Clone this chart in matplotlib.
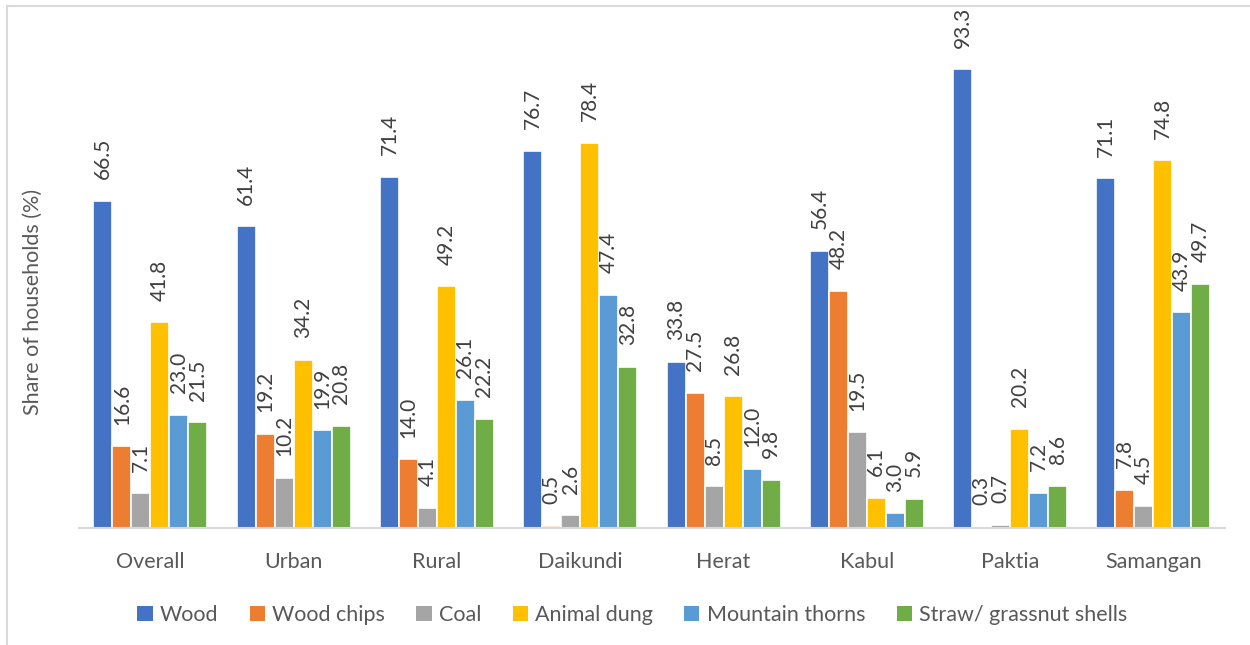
import matplotlib
matplotlib.use("Agg")
import matplotlib.pyplot as plt
import numpy as np
from matplotlib.patches import Patch
from matplotlib.lines import Line2D

categories = ["Overall", "Urban", "Rural", "Daikundi", "Herat", "Kabul", "Paktia", "Samangan"]
series_names = ["Wood", "Wood chips", "Coal", "Animal dung", "Mountain thorns", "Straw/ grassnut shells"]
wood = [66.5, 61.4, 71.4, 76.7, 33.8, 56.4, 93.3, 71.1]
wood_chips = [16.6, 19.2, 14.0, 0.5, 27.5, 48.2, 0.3, 7.8]
coal = [7.1, 10.2, 4.1, 2.6, 8.5, 19.5, 0.7, 4.5]
animal_dung = [41.8, 34.2, 49.2, 78.4, 26.8, 6.1, 20.2, 74.8]
mountain_thorns = [23.0, 19.9, 26.1, 47.4, 12.0, 3.0, 7.2, 43.9]
straw = [21.5, 20.8, 22.2, 32.8, 9.8, 5.9, 8.6, 49.7]
colors = ["#4472C4", "#ED7D31", "#A5A5A5", "#FFC000", "#5B9BD5", "#70AD47"]

plt.rcParams['font.family'] = ['Lato', 'DejaVu Sans']

fig = plt.figure(figsize=(12.5, 6.45), dpi=100)
ax = fig.add_axes([0.063, 0.1814, 0.917, 0.7623])

all_series = [wood, wood_chips, coal, animal_dung, mountain_thorns, straw]
x = np.arange(len(categories))
pitch = 0.1326
for i, (vals, c) in enumerate(zip(all_series, colors)):
    xs = x + (i - 2.5) * pitch
    ax.bar(xs, vals, width=pitch, color=c, edgecolor="white", linewidth=1.2)
    for xi, v in zip(xs, vals):
        ax.annotate(f"{v:.1f}", (xi, v), xytext=(0, 15.5), textcoords="offset points",
                    rotation=90, ha="center", va="bottom", fontsize=15, color="#404040")

ax.set_xlim(-0.5, len(categories) - 0.5)
ax.set_ylim(0, 100)
ax.set_yticks([])
ax.set_xticks(x)
ax.set_xticklabels(categories, fontsize=15.5, color="#595959")
ax.tick_params(axis="x", length=0, pad=17)
for s in ["top", "right", "left"]:
    ax.spines[s].set_visible(False)
ax.spines["bottom"].set_color("#D9D9D9")
ax.spines["bottom"].set_linewidth(1.5)

fig.text(0.026, 0.532, "Share of households (%)", rotation=90, ha="center", va="center",
         fontsize=15.5, color="#595959")

handles = [Patch(facecolor=c, edgecolor="none") for c in colors]
leg = fig.legend(handles, series_names, loc="center", bbox_to_anchor=(0.506, 0.047), ncol=6,
                 frameon=False, fontsize=15.5, handlelength=0.7, handleheight=0.7,
                 handletextpad=0.35, columnspacing=1.45)
for t in leg.get_texts():
    t.set_color("#595959")

fig.add_artist(Line2D([0.0056, 0.0056], [0, 0.9907], transform=fig.transFigure, color="#D9D9D9", linewidth=1.5))
fig.add_artist(Line2D([0.0056, 1.0], [0.9907, 0.9907], transform=fig.transFigure, color="#D9D9D9", linewidth=1.5))

fig.savefig("out.png", dpi=100)
